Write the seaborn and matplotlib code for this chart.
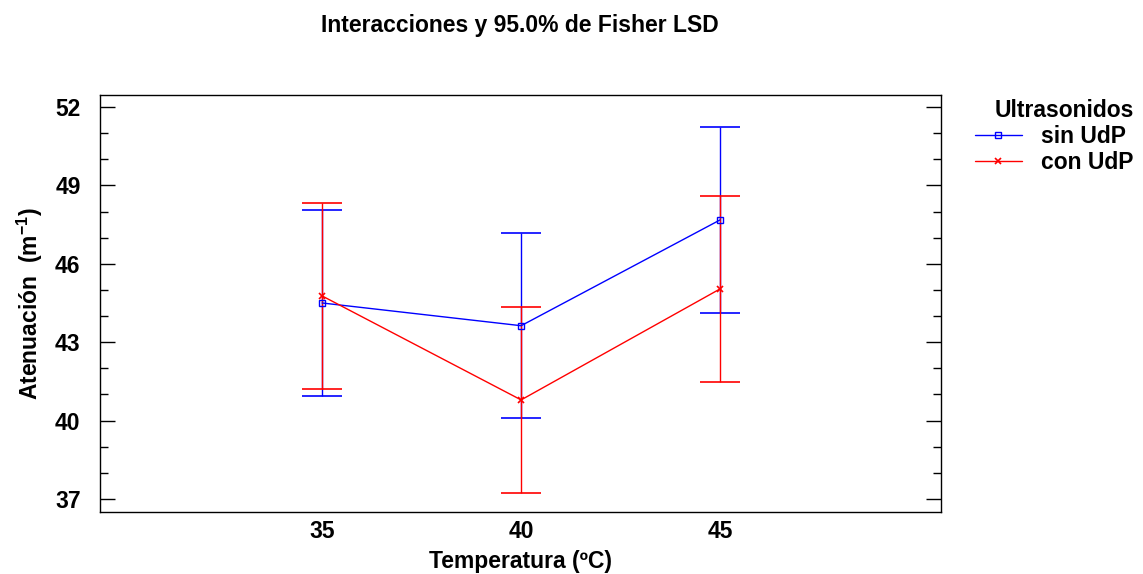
import numpy as np
import pandas as pd
import matplotlib
matplotlib.use("Agg")
import matplotlib.pyplot as plt
from matplotlib.ticker import FixedLocator
from matplotlib.lines import Line2D
import seaborn as sns

# Temperature levels and group means with 95% Fisher LSD intervals
temperaturas = [35, 40, 45]
grupos = ["sin UdP", "con UdP"]
media_sin = [44.50, 43.63, 47.68]
inf_sin = [40.94, 40.09, 44.13]
sup_sin = [48.05, 47.18, 51.22]
media_con = [44.77, 40.79, 45.04]
inf_con = [41.22, 37.24, 41.49]
sup_con = [48.32, 44.33, 48.59]
ticks_y = [37, 40, 43, 46, 49, 52]

df = pd.DataFrame({
    "Temperatura": temperaturas * 2,
    "Atenuacion": media_sin + media_con,
    "Ultrasonidos": [grupos[0]] * 3 + [grupos[1]] * 3,
})
limites = {
    grupos[0]: (inf_sin, sup_sin),
    grupos[1]: (inf_con, sup_con),
}

sns.set_theme(style="white")
plt.rcParams["font.family"] = ["Liberation Sans", "DejaVu Sans"]
plt.rcParams["font.weight"] = "bold"
plt.rcParams["text.color"] = "black"
plt.rcParams["axes.labelcolor"] = "black"
plt.rcParams["xtick.color"] = "black"
plt.rcParams["ytick.color"] = "black"
plt.rcParams["mathtext.fontset"] = "custom"
plt.rcParams["mathtext.rm"] = "Liberation Sans:bold"
plt.rcParams["mathtext.bf"] = "Liberation Sans:bold"

colores = {grupos[0]: "#0000ff", grupos[1]: "#ff0000"}
FS = 16.5

fig = plt.figure(figsize=(11.43, 5.74), dpi=100)
ax = fig.add_axes([0.0875, 0.108, 0.7358, 0.7265])

for g in grupos:
    sub = df[df["Ultrasonidos"] == g]
    lo, hi = limites[g]
    m = np.array(sub["Atenuacion"])
    ax.errorbar(sub["Temperatura"], m,
                yerr=[m - np.array(lo), np.array(hi) - m],
                fmt="none", ecolor=colores[g], elinewidth=1.0,
                capsize=14.4, capthick=1.2, zorder=2)

sns.lineplot(data=df, x="Temperatura", y="Atenuacion", hue="Ultrasonidos",
             hue_order=grupos, palette=colores, ax=ax, linewidth=1.0,
             legend=False, zorder=3)
for g in grupos:
    sub = df[df["Ultrasonidos"] == g]
    if g == grupos[0]:
        ax.plot(sub["Temperatura"], sub["Atenuacion"], linestyle="none",
                marker="s", markersize=4.5, markerfacecolor="none",
                markeredgecolor=colores[g], markeredgewidth=1.0, zorder=4)
    else:
        ax.plot(sub["Temperatura"], sub["Atenuacion"], linestyle="none",
                marker="x", markersize=5, markeredgecolor=colores[g],
                markeredgewidth=1.2, zorder=4)

ax.set_xlim(29.42, 50.55)
ax.set_ylim(36.5, 52.46)
ax.set_xticks(temperaturas)
ax.set_xticklabels([str(t) for t in temperaturas])
ax.yaxis.set_major_locator(FixedLocator(ticks_y))
ax.yaxis.set_minor_locator(FixedLocator(
    [v for v in range(37, 53) if v not in ticks_y]))
ax.set_yticklabels([str(v) for v in ticks_y])

ax.tick_params(axis="x", which="both", length=0, pad=6, labelsize=FS)
ax.tick_params(axis="y", which="major", direction="in", length=10.8,
               width=1.0, left=True, right=True, labelsize=FS, pad=14,
               color="black")
ax.tick_params(axis="y", which="minor", direction="in", length=5.8,
               width=1.0, left=True, right=True, color="black")
for lab in ax.get_xticklabels() + ax.get_yticklabels():
    lab.set_fontweight("bold")

for s in ax.spines.values():
    s.set_visible(True)
    s.set_color("black")
    s.set_linewidth(1.0)
ax.grid(False)

ax.set_xlabel("Temperatura (ºC)", fontsize=FS, fontweight="bold", labelpad=5)
ax.set_ylabel(r"Atenuación  (m$^{-1}$)", fontsize=FS, fontweight="bold",
              labelpad=7)

fig.text(0.455, 0.955, "Interacciones y 95.0% de Fisher LSD",
         ha="center", va="center", fontsize=FS, fontweight="bold")

# Legend outside the plotting area
handles = [
    Line2D([], [], color=colores[grupos[0]], linewidth=1.0, marker="s",
           markersize=4.5, markerfacecolor="none", markeredgewidth=1.0),
    Line2D([], [], color=colores[grupos[1]], linewidth=1.0, marker="x",
           markersize=5, markeredgewidth=1.2),
]
leg = fig.legend(handles, grupos, title="Ultrasonidos", loc="upper right",
                 bbox_to_anchor=(1.006, 0.855), frameon=False,
                 fontsize=FS, title_fontproperties={"weight": "bold",
                                                    "size": FS},
                 alignment="right", handlelength=2.05, handletextpad=0.85,
                 labelspacing=0.12, borderaxespad=0.3)
for t in leg.get_texts():
    t.set_fontweight("bold")

fig.savefig("out.png", dpi=100)
